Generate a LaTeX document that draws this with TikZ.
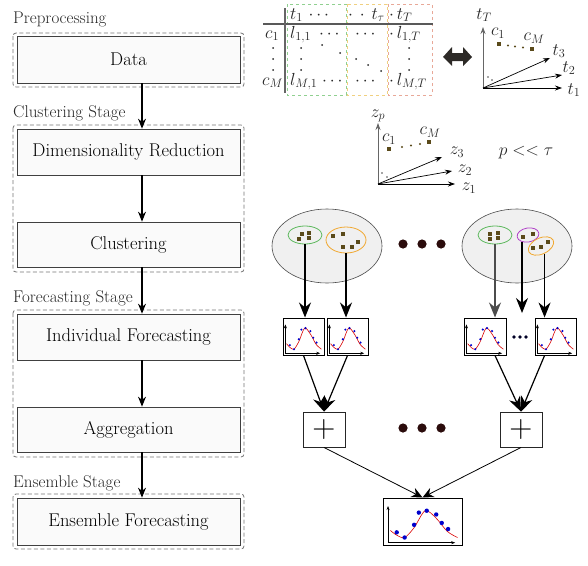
\RequirePackage{fix-cm}
\documentclass[tikz,border=0pt]{standalone}
\usepackage{fontspec}
\usetikzlibrary{arrows.meta,shapes.geometric}
\definecolor{sqbrown}{HTML}{5A4A1A}
\definecolor{dotdark}{HTML}{2B0C0C}
\definecolor{tgreen}{HTML}{90D090}
\definecolor{torange}{HTML}{F0D080}
\definecolor{tred}{HTML}{E8A898}
\definecolor{cgreen}{HTML}{5CB85C}
\definecolor{corange}{HTML}{F0A830}
\definecolor{cpurple}{HTML}{B040C8}
\newcommand{\miniplot}[4]{%
\begin{scope}[shift={(#1.south west)}, x={(#2pt,0pt)}, y={(0pt,#3pt)}]
\draw[-{Stealth[length=4pt,width=3pt]}, line width=0.5pt] (0.07,0.06) -- (0.07,0.84);
\draw[-{Stealth[length=4pt,width=3pt]}, line width=0.5pt] (0.07,0.06) -- (0.92,0.06);
\draw[red!85!black, line width=0.6pt] plot[smooth] coordinates {(0.10,0.32) (0.18,0.22) (0.28,0.17) (0.40,0.38) (0.54,0.74) (0.68,0.58) (0.82,0.30) (0.95,0.17)};
\foreach \px/\py in {0.18/0.28, 0.28/0.17, 0.40/0.44, 0.46/0.70, 0.56/0.74, 0.68/0.66, 0.75/0.48, 0.83/0.35}
  \fill[blue!80!black] (\px,\py) circle[radius=#4pt];
\end{scope}}
\begin{document}
\begin{tikzpicture}[x=1pt,y=-1pt,
  stagebox/.style={draw=black!55, dash pattern=on 4pt off 2.5pt, rounded corners=3pt, line width=0.8pt},
  procbox/.style={draw=black!75, fill=black!2, line width=0.7pt, font=\fontsize{18.5}{22}\selectfont, inner sep=0},
  stagelabel/.style={anchor=base west, font=\fontsize{17}{20}\selectfont, inner sep=0, text=black!85},
  flow/.style={-{Stealth[length=10pt,width=8pt]}, line width=1.1pt},
  mtx/.style={font=\fontsize{17.5}{21}\selectfont, inner sep=0, text=black!85},
  bigarrow/.style={-{Stealth[length=15pt,width=12pt]}, line width=1.2pt},
  thinarrow/.style={-{Stealth[length=11pt,width=10pt]}, line width=0.8pt},
  axis/.style={-{Stealth[length=7pt,width=5pt]}, line width=0.7pt},
  sq/.style={fill=sqbrown, minimum size=4.5pt, inner sep=0},
  fbox/.style={draw=black, line width=1pt, minimum width=41pt, minimum height=37pt, inner sep=0},
  pbox/.style={draw=black!85, line width=0.9pt, minimum width=42pt, minimum height=35pt, inner sep=0, font=\fontsize{32}{32}\selectfont},
  bigell/.style={ellipse, draw=black!70, fill=black!6, line width=0.6pt, minimum width=110pt, minimum height=74pt, inner sep=0},
  smell/.style={ellipse, line width=0.8pt, inner sep=0}
]
\useasboundingbox (0,0) rectangle (588,565);

% ---------- left column ----------
\draw[stagebox] (13,33) rectangle (244,87);
\draw[stagebox] (13,125) rectangle (244,272);
\draw[stagebox] (13,310) rectangle (244,457);
\draw[stagebox] (13,494) rectangle (244,549);
\node[stagelabel] (lpre) at (13,23) {Preprocessing};
\node[stagelabel] (lclu) at (13,117) {Clustering Stage};
\node[stagelabel] (lfor) at (13,302) {Forecasting Stage};
\node[stagelabel] (lens) at (13,487) {Ensemble Stage};

\node[procbox, minimum width=223pt, minimum height=47pt] (data) at (128.5,59.5) {Data};
\node[procbox, minimum width=223pt, minimum height=46pt] (dimred) at (128.5,152) {Dimensionality Reduction};
\node[procbox, minimum width=223pt, minimum height=45pt] (clust) at (128.5,244.5) {Clustering};
\node[procbox, minimum width=223pt, minimum height=46pt] (indiv) at (128.5,337) {Individual Forecasting};
\node[procbox, minimum width=223pt, minimum height=45pt] (aggr) at (128.5,429.5) {Aggregation};
\node[procbox, minimum width=223pt, minimum height=47pt] (ens) at (128.5,521.5) {Ensemble Forecasting};
\coordinate (ax) at (142,0);
\draw[flow] (data.south -| ax) -- (dimred.north -| ax);
\draw[flow] (dimred.south -| ax) -- (clust.north -| ax);
\draw[flow] (clust.south -| ax) -- (indiv.north -| ax);
\draw[flow] (indiv.south -| ax) -- (aggr.north -| ax);
\draw[flow] (aggr.south -| ax) -- (ens.north -| ax);

% ---------- matrix ----------
\draw[tgreen, dashed, line width=0.7pt] (287,4) rectangle (346,95);
\draw[torange, dashed, line width=0.7pt] (347,4) rectangle (387,95);
\draw[tred, dashed, line width=0.7pt] (388,4) rectangle (432,95);
\draw[black!65, line width=1.2pt] (263,24) -- (433,24);
\draw[black!60, line width=1.8pt] (285,8) -- (285,93);
\node[mtx, anchor=base west] (h1) at (290,19) {$t_1\,\cdots$};
\node[mtx, anchor=base west] (h2) at (348,19) {$\cdot\,\cdot\,t_\tau$};
\node[mtx, anchor=base west] (h3) at (389,19) {$\cdot\,t_T$};
\node[mtx, anchor=base west] (r1) at (265,38) {$c_1$};
\node[mtx, anchor=base west] (rM) at (262,85) {$c_M$};
\node[mtx, anchor=base west] (l11) at (290,38) {$l_{1,1}$};
\node[mtx, anchor=base west] (l11d) at (319,38) {$\cdots$};
\node[mtx, anchor=base west] (l1td) at (355,38) {$\cdots$};
\node[mtx, anchor=base west] (l1T) at (389,38) {$\cdot\,l_{1,T}$};
\node[mtx, anchor=base west] (lM1) at (290,85) {$l_{M,1}$};
\node[mtx, anchor=base west] (lM1d) at (322,85) {$\cdots$};
\node[mtx, anchor=base west] (lMtd) at (355,85) {$\cdots$};
\node[mtx, anchor=base west] (lMT) at (389,85) {$\cdot\,l_{M,T}$};
\foreach \yy in {48,59,70} {
  \fill[black!85] (273,\yy) circle[radius=1pt];
  \fill[black!85] (301,\yy) circle[radius=1pt];
  \fill[black!85] (409,\yy) circle[radius=1pt];
}
\foreach \px/\py in {322/45, 340/53, 356/59, 368/65, 381/71}
  \fill[black!85] (\px,\py) circle[radius=1pt];

% double arrow
\fill[black!90!olive] (443,57) -- (452,47) -- (452,53) -- (463,53) -- (463,47) -- (472,57) -- (463,66) -- (463,61) -- (452,61) -- (452,66) -- cycle;

% ---------- plot t ----------
\coordinate (o1) at (483,88);
\draw[axis, black!60] (o1) -- (483,27);
\draw[axis] (o1) -- (562,88);
\draw[axis] (o1) -- (562,75);
\draw[axis] (o1) -- (550,58);
\node[mtx] (tT) at (484,15) {$t_T$};
\node[mtx] (t1) at (574,90) {$t_1$};
\node[mtx] (t2) at (569,68) {$t_2$};
\node[mtx] (t3) at (559,51) {$t_3$};
\node[sq] (s1) at (499,44) {};
\node[sq] (sM) at (532,49) {};
\node[mtx] (c1a) at (498,33) {$c_1$};
\node[mtx] (cMa) at (534,38) {$c_M$};
\foreach \px/\py in {508/45.5, 515/46.5, 523/47.5} \fill[sqbrown] (\px,\py) circle[radius=1.1pt];
\fill[black!70] (488,77) circle[radius=0.8pt];
\fill[black!70] (492,80) circle[radius=0.8pt];

% ---------- plot z ----------
\coordinate (o2) at (378,184);
\draw[axis, black!60] (o2) -- (378,123);
\draw[axis] (o2) -- (455,184);
\draw[axis] (o2) -- (452,171);
\draw[axis] (o2) -- (442,157);
\node[mtx] (zp) at (378,116) {$z_p$};
\node[mtx] (z1) at (469,188) {$z_1$};
\node[mtx] (z2) at (465,170) {$z_2$};
\node[mtx] (z3) at (457,152) {$z_3$};
\node[sq] (s1b) at (389,149) {};
\node[sq] (sMb) at (429,142) {};
\node[mtx] (c1b) at (389,139) {$c_1$};
\node[mtx] (cMb) at (430,132) {$c_M$};
\foreach \px/\py in {402/147, 411/145.5, 420/144} \fill[sqbrown] (\px,\py) circle[radius=1.1pt];
\fill[black!70] (382,173) circle[radius=0.8pt];
\fill[black!70] (387,177) circle[radius=0.8pt];
\node[mtx] (ptau) at (526,153) {$p << \tau$};

% ---------- clusters ----------
\node[bigell] (e1) at (327,246) {};
\node[bigell] (e2) at (517,246) {};
\node[smell, draw=cgreen, minimum width=34pt, minimum height=18pt] (g1) at (305,235) {};
\node[smell, draw=corange, minimum width=40pt, minimum height=26pt] (or1) at (346,240) {};
\node[smell, draw=cgreen, minimum width=34pt, minimum height=18pt] (g2) at (495,235) {};
\node[smell, draw=cpurple, minimum width=22pt, minimum height=14pt, rotate=10] (pu2) at (528,235) {};
\node[smell, draw=corange, minimum width=27pt, minimum height=16pt, rotate=25] (or2) at (541,246) {};
\foreach \px/\py in {301.7/234, 309.3/232.7, 299.3/239.3, 309.3/238.3,
                     333.3/236, 342.7/234, 358.3/241.7, 342.7/247.3, 351.7/246.7,
                     490/234, 498/232.7, 490/239.3, 498/238.3,
                     523/237, 533/234, 533/248, 541/247, 548/242}
  \fill[sqbrown] (\px-2,\py-2) rectangle ++(4,4);
\foreach \px in {403,422,441} {
  \fill[dotdark] (\px,244) circle[radius=4.6pt];
  \fill[dotdark] (\px,428) circle[radius=4.6pt];
}

% ---------- forecasts ----------
\node[fbox] (f1) at (303.5,336.5) {};
\node[fbox] (f2) at (347.5,336.5) {};
\node[fbox, minimum width=42pt] (f3) at (485,336.5) {};
\node[fbox] (f4) at (555.5,336.5) {};
\miniplot{f1}{41}{37}{1.2}
\miniplot{f2}{41}{37}{1.2}
\miniplot{f3}{42}{37}{1.2}
\miniplot{f4}{41}{37}{1.2}
\foreach \px in {514,520,526} \fill[black!85!blue] (\px,337) circle[radius=1.8pt];
\coordinate (pend) at (522,313);
\draw[bigarrow] (g1.south) -- (g1.south |- f1.north);
\draw[bigarrow] (or1.south) -- (or1.south |- f2.north);
\draw[bigarrow, black!70] (g2.south) -- (g2.south |- f3.north);
\draw[bigarrow] (pend |- pu2.south) -- (pend);
\draw[bigarrow] (or2.south) -- (or2.south |- f4.north);

% ---------- aggregation ----------
\node[pbox] (p1) at (324,429.5) {$+$};
\node[pbox] (p2) at (521,429.5) {$+$};
\draw[bigarrow] (f1.south) -- (p1.north);
\draw[bigarrow] (f2.south) -- (p1.north);
\draw[bigarrow] (g2.south |- f3.south) -- (p2.north);
\draw[bigarrow] (or2.south |- f4.south) -- (p2.north);

% ---------- ensemble ----------
\node[fbox, minimum width=79pt, minimum height=47pt] (fin) at (422.5,521.5) {};
\miniplot{fin}{79}{47}{2.2}
\draw[thinarrow] (p1.south) -- (fin.north);
\draw[thinarrow] (p2.south) -- (fin.north);
\end{tikzpicture}
\end{document}
